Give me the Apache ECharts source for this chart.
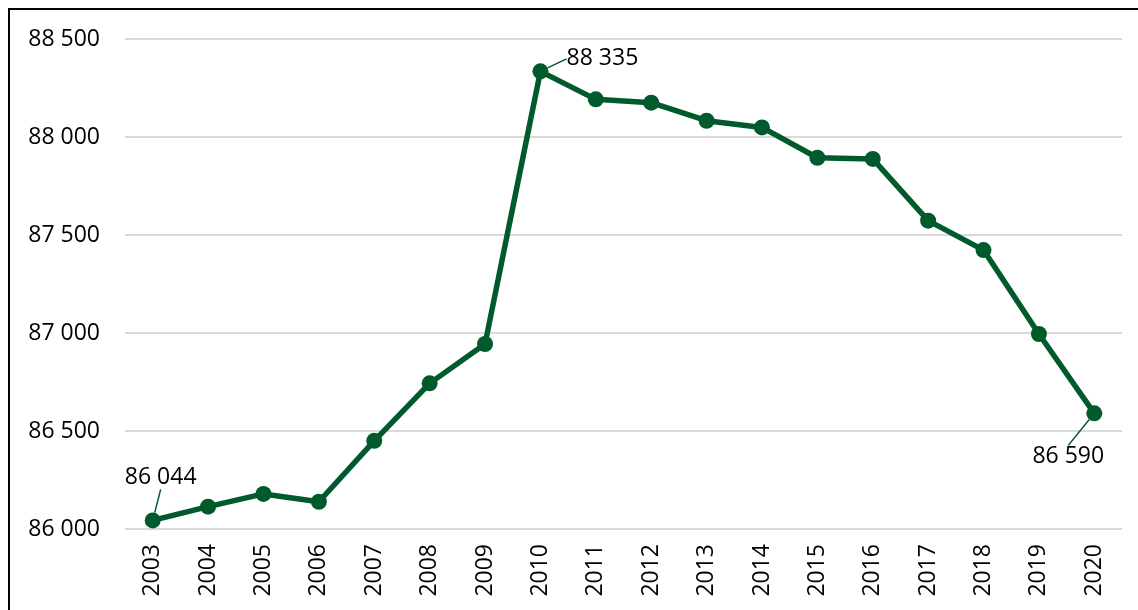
<!DOCTYPE html>
<html>
<head>
<meta charset="utf-8">
<script src="https://cdn.jsdelivr.net/npm/echarts@6/dist/echarts.min.js"></script>
<style>
  html, body { margin: 0; padding: 0; background: #fff; }
  #chart { width: 1138px; height: 610px; }
</style>
</head>
<body>
<div id="chart"></div>
<script>
// data
var years = ['2003', '2004', '2005', '2006', '2007', '2008', '2009', '2010', '2011',
  '2012', '2013', '2014', '2015', '2016', '2017', '2018', '2019', '2020'];
var values = [86044, 86114, 86179, 86139, 86450, 86743, 86944, 88335, 88192,
  88175, 88083, 88049, 87894, 87888, 87573, 87423, 86995, 86590];
var labelled = [0, 7, 17]; // points that carry a value label

var green = '#005a2b';
var font = '"Open Sans", "Noto Sans", sans-serif';

function fmt(v) {
  return String(v).replace(/\B(?=(\d{3})+(?!\d))/g, ' ');
}

// label offsets from default 'top' position
var labelMove = {
  0: { dx: 8, dy: -18 },
  7: { dx: 62, dy: 12 },
  17: { dx: -26, dy: 68 }
};

var chart = echarts.init(document.getElementById('chart'));

var option = {
  animation: false,
  textStyle: { fontFamily: font },
  grid: { left: 125, right: 16, top: 39, bottom: 81 },
  xAxis: {
    type: 'category',
    data: years,
    boundaryGap: true,
    axisLine: { show: false },
    axisTick: { show: false },
    axisLabel: {
      rotate: 90,
      interval: 0,
      margin: 15,
      color: '#000',
      fontSize: 23,
      fontFamily: font
    }
  },
  yAxis: {
    type: 'value',
    min: 86000,
    max: 88500,
    interval: 500,
    axisLine: { show: false },
    axisTick: { show: false },
    axisLabel: {
      margin: 25,
      color: '#000',
      fontSize: 23,
      fontFamily: font,
      formatter: function (v) { return fmt(v); }
    },
    splitLine: { lineStyle: { color: '#d9d9d9', width: 2 } }
  },
  series: [{
    type: 'line',
    data: values.map(function (v, i) {
      return {
        value: v,
        label: { show: labelled.indexOf(i) >= 0 }
      };
    }),
    symbol: 'circle',
    symbolSize: 16,
    lineStyle: { color: green, width: 5.5 },
    itemStyle: { color: green },
    label: {
      position: 'top',
      color: '#000',
      fontSize: 23,
      fontFamily: font,
      formatter: function (p) { return fmt(p.value); }
    },
    labelLine: { show: true, lineStyle: { color: green, width: 1.5 } },
    labelLayout: function (p) {
      return labelMove[p.dataIndex] || {};
    }
  }],
  graphic: [{
    type: 'rect',
    shape: { x: 9, y: 9, width: 1300, height: 800 },
    style: { fill: 'none', stroke: '#000', lineWidth: 2 },
    silent: true
  }]
};

chart.setOption(option);
</script>
</body>
</html>
